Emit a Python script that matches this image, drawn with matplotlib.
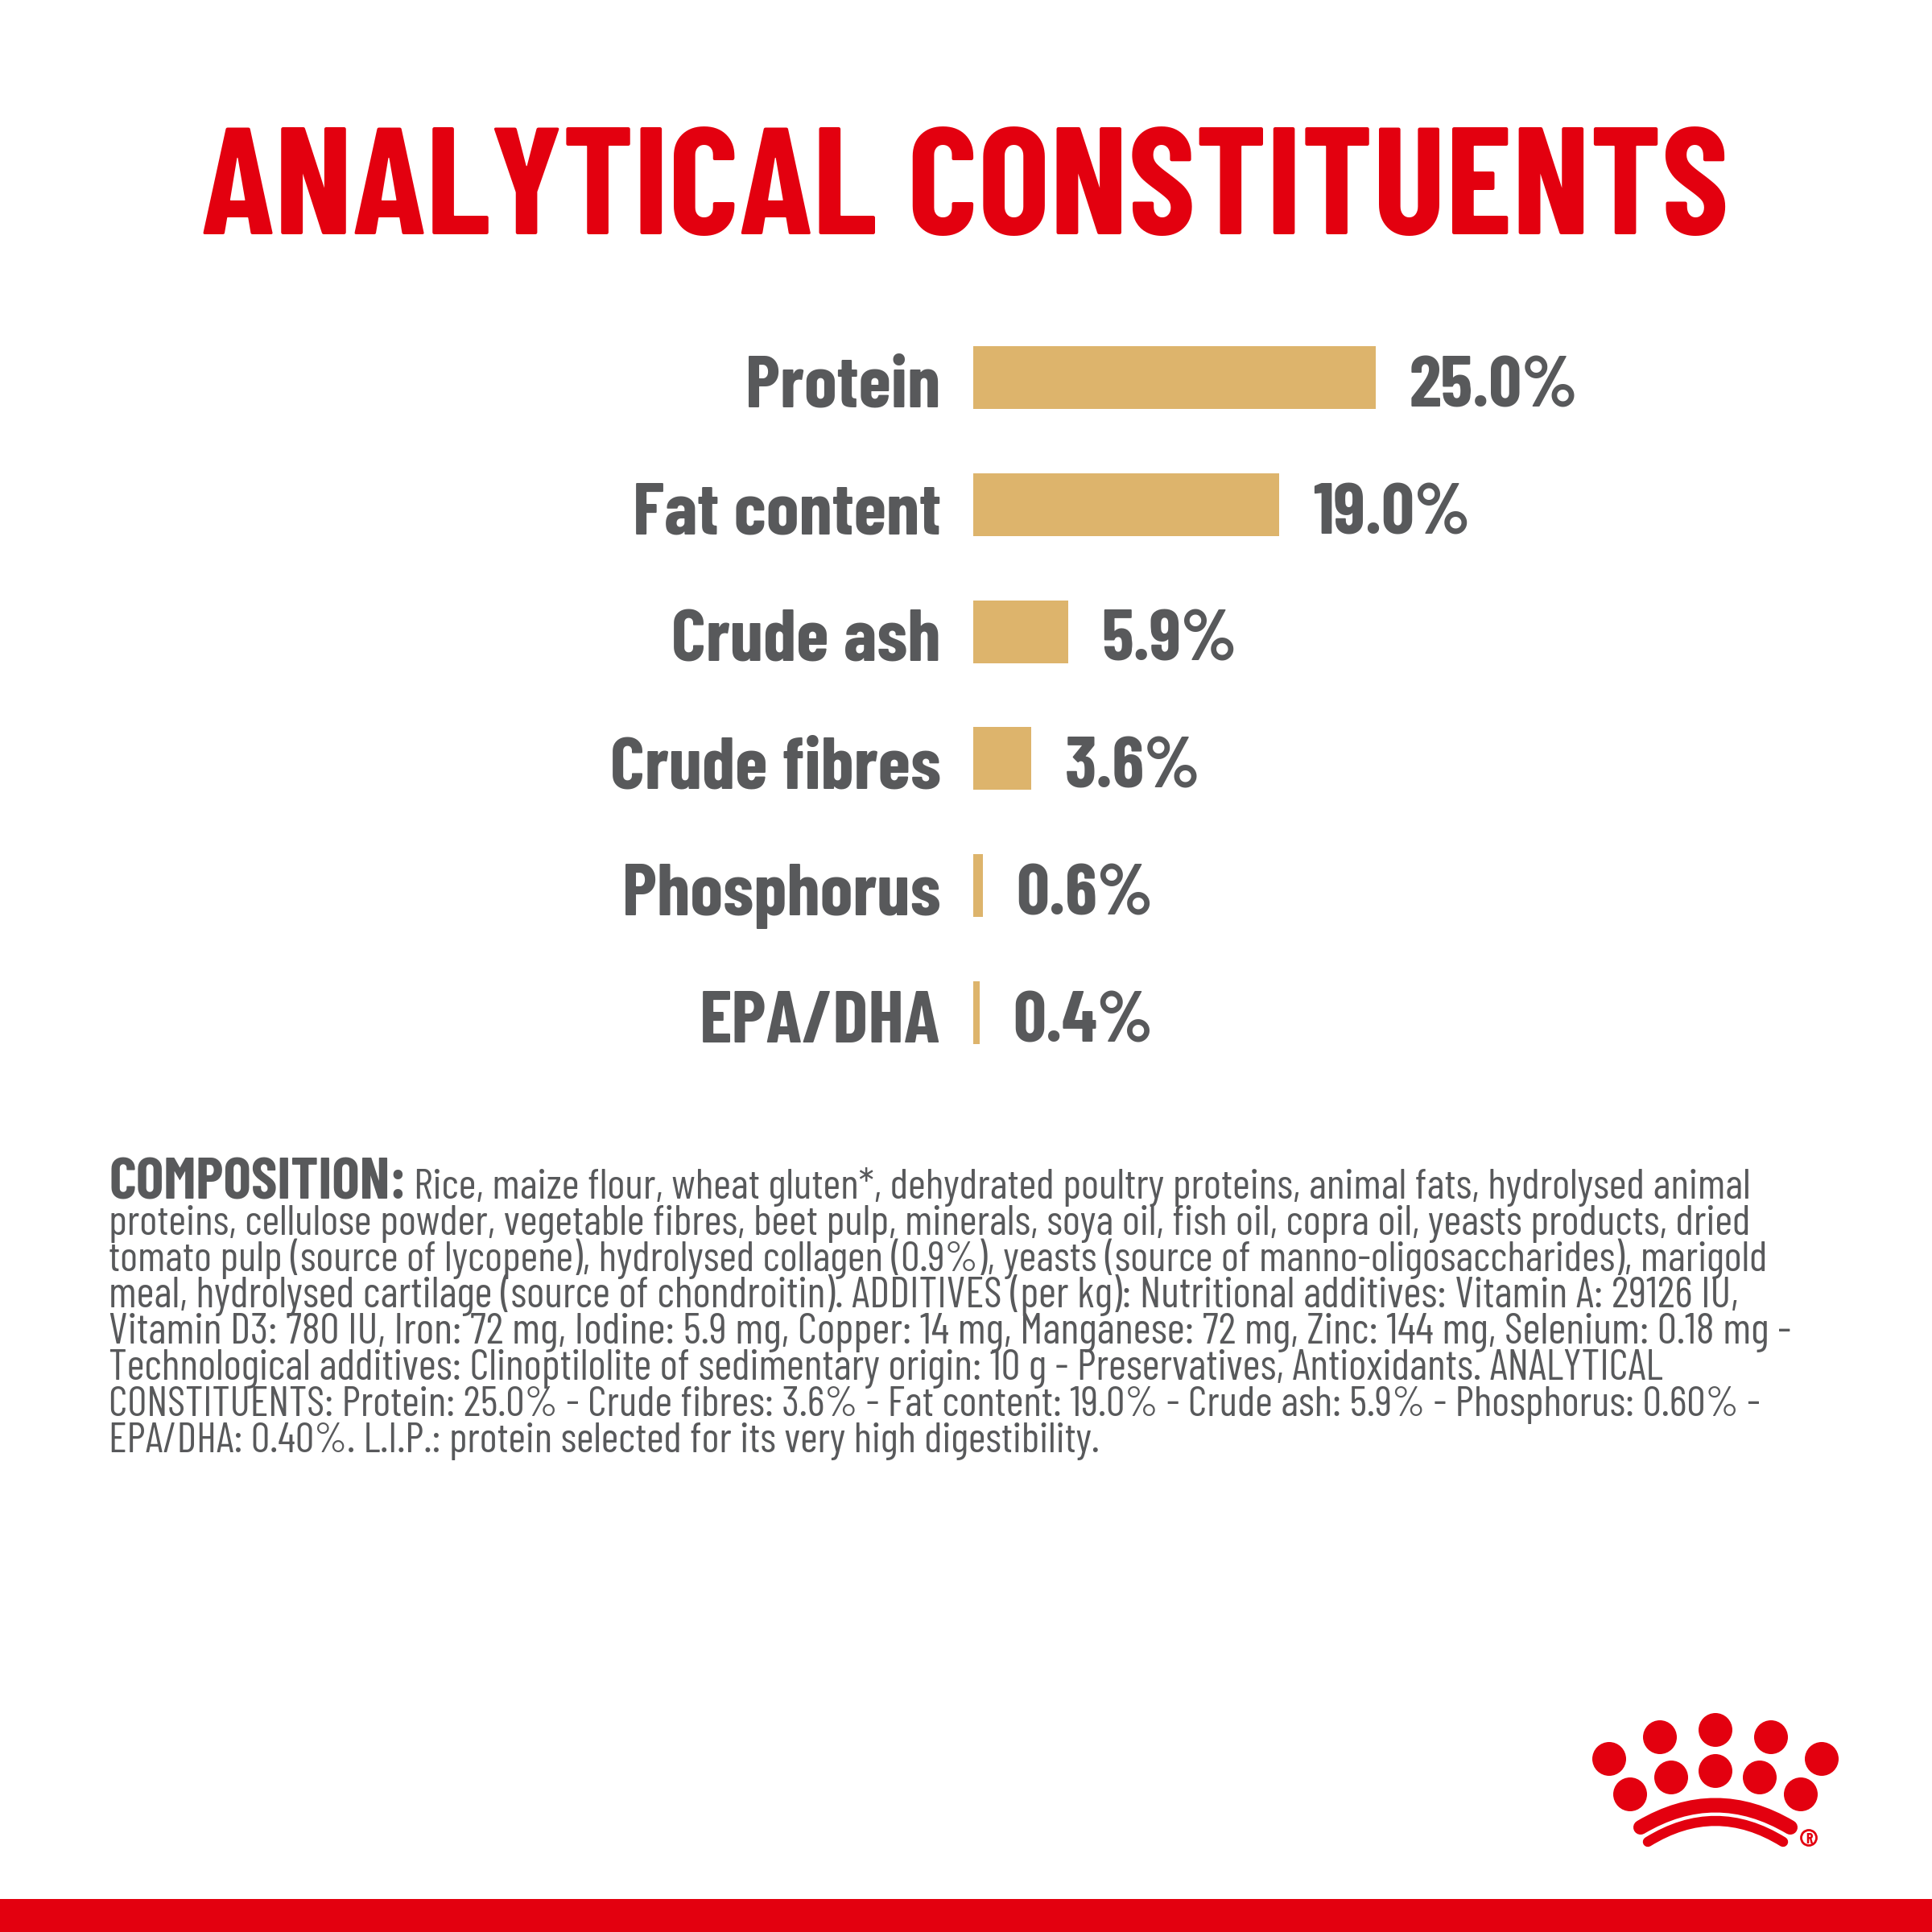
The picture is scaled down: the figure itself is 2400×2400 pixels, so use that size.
import matplotlib
matplotlib.use("Agg")
import matplotlib.pyplot as plt
from matplotlib.patches import Circle, PathPatch, Rectangle
from matplotlib.path import Path
from matplotlib.transforms import ScaledTranslation

FONT = ["Barlow Condensed", "Liberation Sans", "DejaVu Sans"]
plt.rcParams["font.family"] = FONT

RED = "#E3000F"
GOLD = "#DDB46C"
GREY = "#58595B"

title = "ANALYTICAL CONSTITUENTS"
categories = ["Protein", "Fat content", "Crude ash", "Crude fibres", "Phosphorus", "EPA/DHA"]
values = [25.0, 19.0, 5.9, 3.6, 0.6, 0.4]
value_labels = ["25.0%", "19.0%", "5.9%", "3.6%", "0.6%", "0.4%"]

comp_head = "COMPOSITION:"
comp_lines = [
    "Rice, maize flour, wheat gluten*, dehydrated poultry proteins, animal fats, hydrolysed animal",
    "proteins, cellulose powder, vegetable fibres, beet pulp, minerals, soya oil, fish oil, copra oil, yeasts products, dried",
    "tomato pulp (source of lycopene), hydrolysed collagen (0.9%), yeasts (source of manno-oligosaccharides), marigold",
    "meal, hydrolysed cartilage (source of chondroitin). ADDITIVES (per kg): Nutritional additives: Vitamin A: 29126 IU,",
    "Vitamin D3: 780 IU, Iron: 72 mg, Iodine: 5.9 mg, Copper: 14 mg, Manganese: 72 mg, Zinc: 144 mg, Selenium: 0.18 mg -",
    "Technological additives: Clinoptilolite of sedimentary origin: 10 g - Preservatives, Antioxidants. ANALYTICAL",
    "CONSTITUENTS: Protein: 25.0% - Crude fibres: 3.6% - Fat content: 19.0% - Crude ash: 5.9% - Phosphorus: 0.60% -",
    "EPA/DHA: 0.40%. L.I.P.: protein selected for its very high digestibility.",
]
comp_sizes = [38.2, 38.2, 37.9, 38.55, 38.75, 38.45, 37.9, 37.75]

S = 2400
fig = plt.figure(figsize=(24, 24), dpi=100, facecolor="white")

pg = fig.add_axes([0, 0, 1, 1])
pg.set_xlim(0, S)
pg.set_ylim(S, 0)
pg.axis("off")

pg.text(1199, 291, title, color=RED, fontsize=136, fontweight="bold", ha="center", va="baseline")

L, R, T, B = 1209, 1709, 390, 1337
ax = fig.add_axes([L / S, 1 - B / S, (R - L) / S, (B - T) / S])
ax.patch.set_alpha(0)
ypos = list(range(len(categories)))
bars = ax.barh(ypos, values, height=0.494, color=GOLD, linewidth=0)
ax.set_xlim(0, 25)
ax.set_ylim(5.5, -0.5)
ax.set_xticks([])
ax.set_yticks(ypos, categories, fontsize=66.5, fontweight="bold", color=GREY)
ax.tick_params(axis="y", length=0, pad=29)
shift = ScaledTranslation(0, -3.5 / 72, fig.dpi_scale_trans)
for lbl in ax.get_yticklabels():
    lbl.set_transform(lbl.get_transform() + shift)
for s in ax.spines.values():
    s.set_visible(False)
anns = ax.bar_label(bars, labels=value_labels, padding=30, fontsize=65, fontweight="bold", color=GREY)
for a in anns:
    a.set_va("center_baseline")
    a.xyann = (30, -3.5)

pg.text(135, 1489, comp_head, color=GREY, fontsize=52.6, fontweight="bold", va="baseline")
pg.text(514, 1489, comp_lines[0], color=GREY, fontsize=comp_sizes[0], va="baseline")
for i, line in enumerate(comp_lines[1:], start=1):
    pg.text(135, 1489 + 45 * i, line, color=GREY, fontsize=comp_sizes[i], va="baseline")

pg.add_patch(Rectangle((0, 2359), S, 41, color=RED, lw=0))

dots_x = [1999, 2062, 2131, 2200, 2263, 2025, 2076, 2131, 2186, 2237]
dots_y = [2185, 2158, 2149, 2158, 2185, 2229, 2208, 2200, 2208, 2229]
for x, y in zip(dots_x, dots_y):
    pg.add_patch(Circle((x, y), 21, color=RED, lw=0))
for (x0, y0, yc, w) in [(2038, 2270, 2215, 13), (2047, 2288, 2236, 9)]:
    p = Path([(x0, y0), (2131, yc), (2262 - (x0 - 2000), y0)], [Path.MOVETO, Path.CURVE3, Path.CURVE3])
    pg.add_patch(PathPatch(p, fc="none", ec=RED, lw=w, capstyle="round"))
pg.add_patch(Circle((2247, 2283), 9.5, fc="none", ec=RED, lw=2))
pg.text(2247, 2283, "R", color=RED, fontsize=13, fontweight="bold", ha="center", va="center_baseline")

fig.savefig("out.png", dpi=100)
